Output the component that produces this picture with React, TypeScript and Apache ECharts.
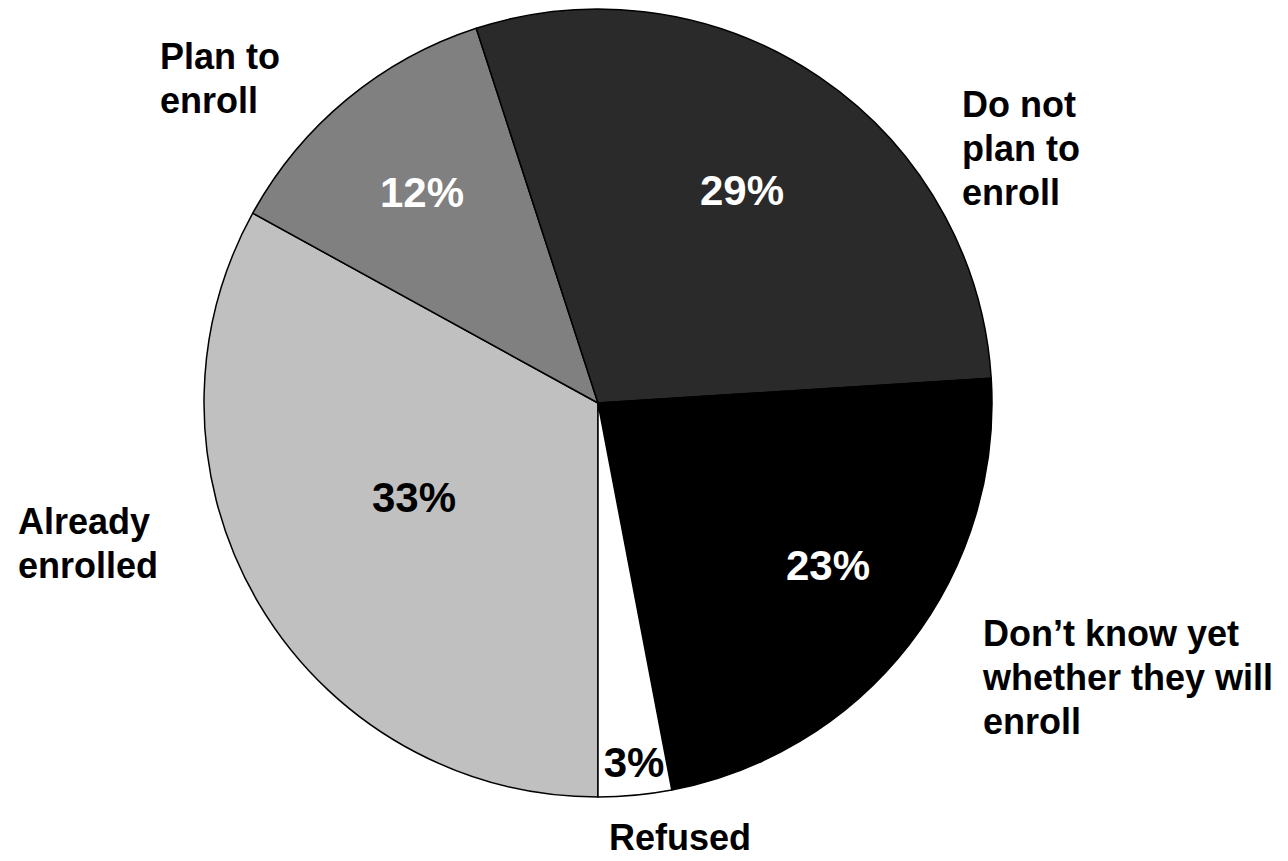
import React, { useEffect, useRef } from "react";
import * as echarts from "echarts";

const categories = [
  "Already\nenrolled",
  "Plan to\nenroll",
  "Do not\nplan to\nenroll",
  "Don\u2019t know yet\nwhether they will\nenroll",
  "Refused",
];
const values = [33, 12, 29, 23, 3];
const sliceColors = ["#c0c0c0", "#808080", "#2a2a2a", "#000000", "#ffffff"];
const pctColors = ["#000000", "#ffffff", "#ffffff", "#ffffff", "#000000"];

// label placement (layout only)
const pctPos = [
  [414, 497],
  [422, 192],
  [742, 190],
  [828, 565],
  [634, 762],
];
const namePos: [number, number, string, number][] = [
  [18, 543, "left", 44],
  [160, 78, "left", 44],
  [962, 148, "left", 44],
  [983, 677, "left", 44],
  [680, 837, "center", 36],
];

export default function App() {
  const ref = useRef<HTMLDivElement>(null);
  useEffect(() => {
    if (!ref.current) return;
    const chart = echarts.init(ref.current, undefined, { renderer: "svg" });
    const font = "Arial, 'Liberation Sans', Helvetica, sans-serif";
    chart.setOption({
      animation: false,
      backgroundColor: "#ffffff",
      series: [
        {
          type: "pie",
          center: [598, 403],
          radius: [0, 394],
          startAngle: 270,
          clockwise: true,
          silent: true,
          itemStyle: { borderColor: "#000", borderWidth: 1.5 },
          labelLine: { show: false },
          label: {
            show: true,
            position: "inside",
            formatter: "{c}%",
            fontFamily: font,
            fontWeight: "bold",
            fontSize: 42,
          },
          labelLayout: (p: any) => ({
            x: pctPos[p.dataIndex][0],
            y: pctPos[p.dataIndex][1],
            align: "center",
            verticalAlign: "middle",
          }),
          data: values.map((v, i) => ({
            value: v,
            name: categories[i],
            itemStyle: { color: sliceColors[i] },
            label: { color: pctColors[i] },
          })),
        },
        {
          type: "pie",
          center: [598, 403],
          radius: [0, 394],
          startAngle: 270,
          clockwise: true,
          silent: true,
          itemStyle: { color: "transparent", borderWidth: 0 },
          labelLine: { show: false },
          label: {
            show: true,
            position: "outside",
            formatter: "{b}",
            color: "#000",
            fontFamily: font,
            fontWeight: "bold",
            fontSize: 36,
            lineHeight: 44,
          },
          labelLayout: (p: any) => ({
            x: namePos[p.dataIndex][0],
            y: namePos[p.dataIndex][1],
            align: namePos[p.dataIndex][2],
            verticalAlign: "middle",
          }),
          data: values.map((v, i) => ({
            value: v,
            name: categories[i],
            label: { align: namePos[i][2], lineHeight: namePos[i][3] },
          })),
        },
      ],
    });
    return () => chart.dispose();
  }, []);
  return (
    <div
      ref={ref}
      style={{ position: "fixed", left: 0, top: 0, width: 1288, height: 861 }}
    />
  );
}
